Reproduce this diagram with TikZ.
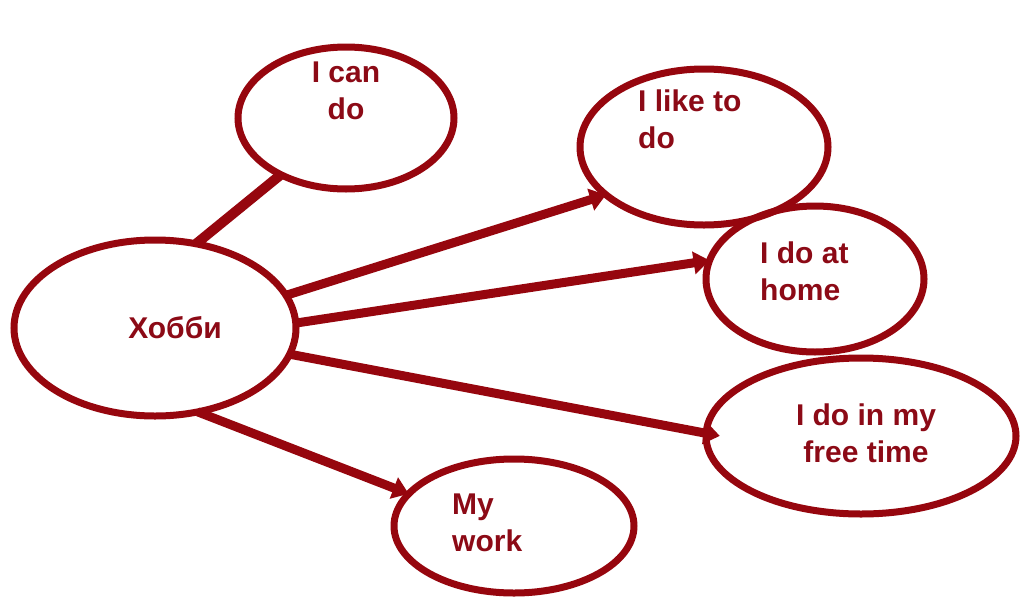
\documentclass[tikz,border=0pt]{standalone}
\usepackage{fontspec}
\setmainfont{Liberation Sans}
\usetikzlibrary{shapes.geometric,arrows.meta}
\definecolor{maroon}{RGB}{150,6,14}
\definecolor{txtred}{RGB}{140,10,22}
\tikzset{
  bubble/.style={draw=maroon, line width=7pt, ellipse, inner sep=0pt, outer sep=0pt},
  lbl/.style={text=txtred, font=\fontsize{30}{37}\selectfont\bfseries, inner sep=0pt, align=left},
  conn/.style={draw=maroon, line width=9pt},
  arr/.style={conn, -{Triangle[length=16pt,width=22pt]}},
}
\begin{document}
\begin{tikzpicture}[x=1pt,y=-1pt]
\useasboundingbox (0,0) rectangle (1023,600);
\node[bubble, minimum width=282pt, minimum height=176pt] (hob) at (155,328) {};
\node[bubble, minimum width=216pt, minimum height=142pt] (can) at (346,118) {};
\node[bubble, minimum width=248pt, minimum height=156pt] (like) at (704,147) {};
\node[bubble, minimum width=218pt, minimum height=146pt] (home) at (815,279) {};
\node[bubble, minimum width=310pt, minimum height=156pt] (free) at (861,436) {};
\node[bubble, minimum width=240pt, minimum height=134pt] (work) at (514,526) {};

\node[lbl] (thob) at (175,328) {Хобби};
\node[lbl, align=center] (tcan) at (346,91) {I can\\do};
\node[lbl, anchor=west] (tlike) at (638,119) {I like to\\do};
\node[lbl, anchor=west] (thome) at (760,271) {I do at\\home};
\node[lbl, align=center] (tfree) at (866,433) {I do in my\\free time};
\node[lbl, anchor=west] (twork) at (452,523) {My\\work};

\draw[conn, line width=10pt] (hob.64) -- (can.221);
\draw[arr] (hob.14) -- (like.206);
\draw[arr] (hob.2) -- (home.170);
\draw[arr, shorten >=-14pt] (hob.-11) -- (free.179);
\draw[arr] (hob.-63) -- (work.163);
\end{tikzpicture}
\end{document}
